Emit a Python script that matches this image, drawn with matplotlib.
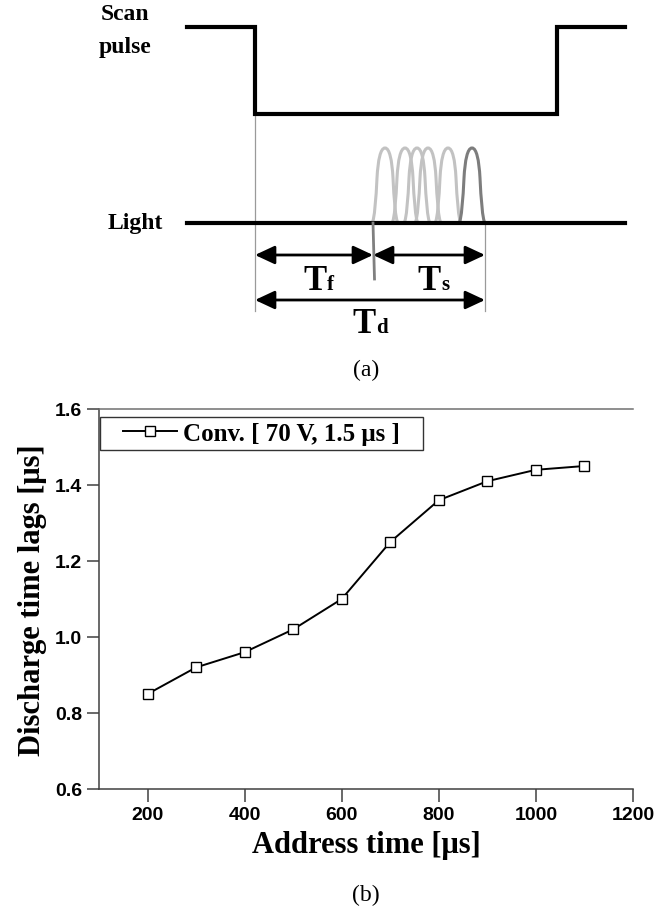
import matplotlib
matplotlib.use("Agg")
import matplotlib.pyplot as plt
from matplotlib.path import Path
from matplotlib.patches import PathPatch, FancyArrowPatch
from matplotlib.legend_handler import HandlerLine2D

# (b) measured data
address_time = [200, 300, 400, 500, 600, 700, 800, 900, 1000, 1100]
time_lag = [0.85, 0.92, 0.96, 1.02, 1.10, 1.25, 1.36, 1.41, 1.44, 1.45]
series_label = "Conv. [ 70 V, 1.5 \u03bcs ]"
x_ticks = [200, 400, 600, 800, 1000, 1200]
y_ticks = [0.6, 0.8, 1.0, 1.2, 1.4, 1.6]

# (a) timing sketch, in pixel units of the figure
scan_t = [187, 255, 255, 557, 557, 625]
scan_v = [28, 28, 115, 115, 28, 28]
light_t = [187, 625]
light_v = 224
flash_t = [385, 405, 417, 428, 448, 472]
flash_dark = [False, False, False, False, False, True]
t_start, t_first, t_last = 255, 373, 485

serif = "Liberation Serif"
sans = "Liberation Sans"

fig = plt.figure(figsize=(6.69, 9.12), dpi=100)

# ---- (a) sketch ----
ax0 = fig.add_axes([0, 0, 1, 1])
ax0.set_xlim(0, 669)
ax0.set_ylim(912, 0)
ax0.axis("off")

ax0.plot(scan_t, scan_v, color="black", lw=3, solid_joinstyle="miter", zorder=3)
ax0.plot(light_t, [light_v, light_v], color="black", lw=3, zorder=4)


def flash(cx, base, top):
    # rounded hump: steep flanks, round cap
    verts = [(cx - 13, base),
             (cx - 10.5, base - 3), (cx - 9, base - 25), (cx - 8, base - 45),
             (cx - 7, top + 12), (cx - 4.5, top), (cx, top),
             (cx + 4.5, top), (cx + 7, top + 12), (cx + 8, base - 45),
             (cx + 9, base - 25), (cx + 10.5, base - 3), (cx + 13, base)]
    codes = [Path.MOVETO] + [Path.CURVE4] * 12
    return Path(verts, codes)


for cx, dark in zip(flash_t, flash_dark):
    col = "#7d7d7d" if dark else "#c2c2c2"
    ax0.add_patch(PathPatch(flash(cx, light_v, 149), fill=False, edgecolor=col,
                            lw=2.2, zorder=3 if dark else 2))

# first-discharge marker
ax0.plot([t_first, t_first + 1.5], [light_v, 280], color="#808080", lw=2, zorder=5)

# guide lines
ax0.plot([t_start, t_start], [115, 312], color="#9a9a9a", lw=0.9, zorder=1)
ax0.plot([t_last, t_last], [light_v, 312], color="#9a9a9a", lw=0.9, zorder=1)

arrow_style = "<|-|>,head_length=0.6,head_width=0.28"
for x0, x1, yy in [(t_start, t_first, 256), (t_first, t_last, 256), (t_start, t_last, 301)]:
    ax0.add_patch(FancyArrowPatch((x0, yy), (x1, yy), arrowstyle=arrow_style,
                                  mutation_scale=20, color="black", lw=2,
                                  shrinkA=0, shrinkB=0, zorder=4))

for x_T, yb, sub in [(303, 290, "f"), (417, 290, "s"), (352, 333, "d")]:
    ax0.text(x_T, yb, "T", family=serif, weight="bold", fontsize=25, va="baseline", ha="left")
    ax0.text(x_T + 24, yb, sub, family=serif, weight="bold", fontsize=15, va="baseline", ha="left")

ax0.text(125, 15, "Scan", family=serif, weight="bold", fontsize=17, ha="center", va="center")
ax0.text(125, 47, "pulse", family=serif, weight="bold", fontsize=17, ha="center", va="center")
ax0.text(135, 224, "Light", family=serif, weight="bold", fontsize=17, ha="center", va="center")

ax0.text(366, 370, "(a)", family=serif, fontsize=17, ha="center", va="center")
ax0.text(366, 895, "(b)", family=serif, fontsize=17, ha="center", va="center")

# ---- (b) plot ----
ax = fig.add_axes([99 / 669, 1 - 790 / 912, (633 - 99) / 669, (790 - 410) / 912])
line, = ax.plot(address_time, time_lag, color="black", lw=1.4, marker="s", markersize=7,
                markerfacecolor="white", markeredgecolor="black", markeredgewidth=1.0,
                label=series_label)

ax.set_xlim(100, 1200)
ax.set_ylim(0.6, 1.6)
ax.set_xticks(x_ticks)
ax.set_yticks(y_ticks)
ax.set_yticklabels(["%.1f" % v for v in y_ticks])
for lab in ax.get_xticklabels() + ax.get_yticklabels():
    lab.set_family(sans)
    lab.set_weight("bold")
    lab.set_fontsize(14)
ax.tick_params(direction="out", length=9, width=1.1, color="#404040", pad=3)

ax.spines["right"].set_visible(False)
for s in ["left", "bottom"]:
    ax.spines[s].set_color("#404040")
    ax.spines[s].set_linewidth(1.1)
ax.spines["top"].set_color("#707070")
ax.spines["top"].set_linewidth(1.1)

ax.set_xlabel("Address time [\u03bcs]", family=serif, weight="bold", fontsize=22, labelpad=5)
ax.set_ylabel("Discharge time lags [\u03bcs]", family=serif, weight="bold", fontsize=22, labelpad=6)

leg = ax.legend(loc="upper left", bbox_to_anchor=(0.002, 0.5, 0.605, 0.479), mode="expand",
                borderaxespad=0, borderpad=0.2, handlelength=2.88, handletextpad=0.24,
                fancybox=False, framealpha=1, edgecolor="#333333",
                prop={"family": serif, "weight": "bold", "size": 18},
                handler_map={line: HandlerLine2D(xpad=0.72)})
leg.get_frame().set_linewidth(1.0)

fig.savefig("out.png", dpi=100)
